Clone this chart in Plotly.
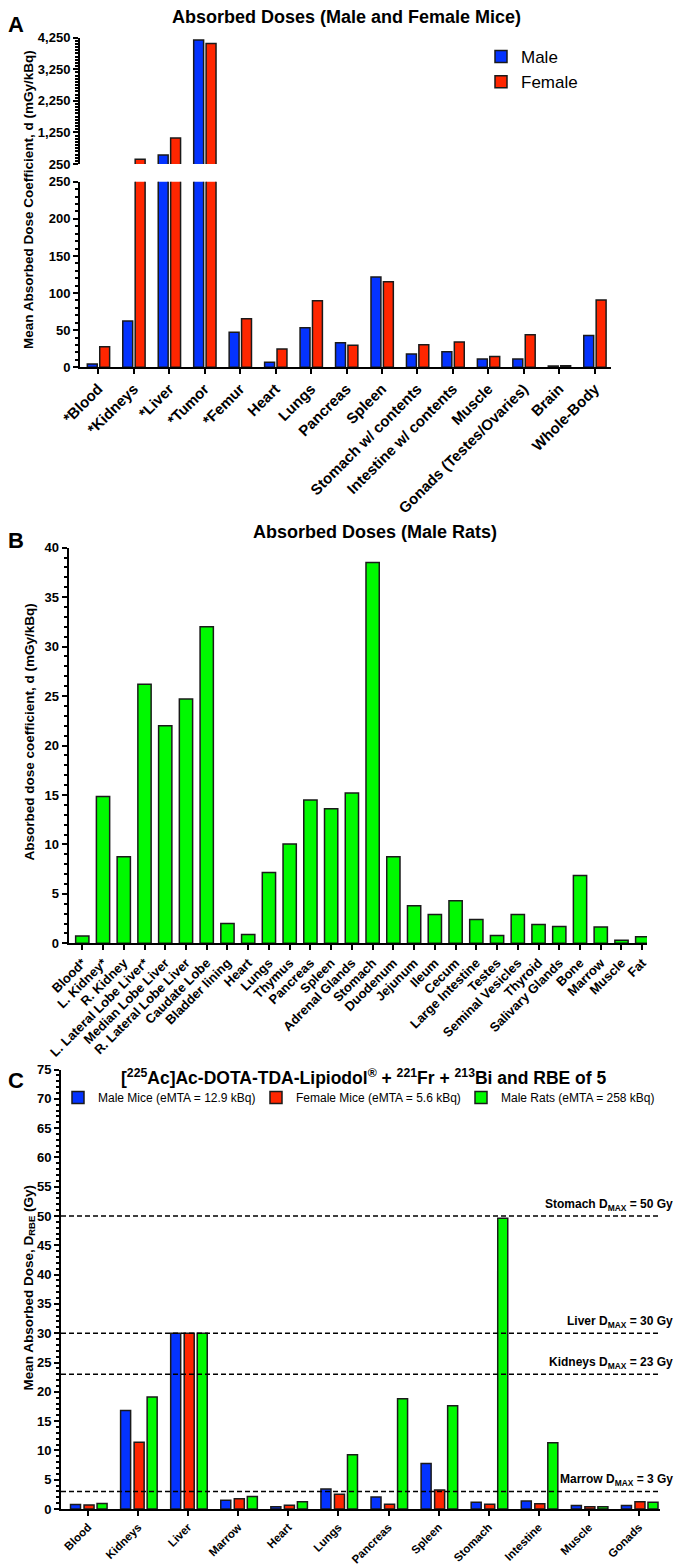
import plotly.graph_objects as go

# The page body adds an 8 px margin; the figure is sized/positioned to compensate
OFF = 8
W, H = 685 - OFF, 1567 - OFF


def px(x):
    return (x - OFF) / W


def py(y):
    return 1 - (y - OFF) / H


# ---------------- data ----------------
mice_organs = ["*Blood", "*Kidneys", "*Liver", "*Tumor", "*Femur", "Heart", "Lungs",
               "Pancreas", "Spleen", "Stomach w/ contents", "Intestine w/ contents",
               "Muscle", "Gonads (Testes/Ovaries)", "Brain", "Whole-Body"]
male_mice = [4.5, 62.4, 535, 4180, 47.1, 6.7, 53.4, 33.2, 121.6, 18.0, 21.1, 11.2, 11.2, 1.8, 43.0]
female_mice = [27.8, 400, 1073, 4070, 65.5, 24.7, 89.8, 29.6, 115.3, 30.5, 34.1, 14.4, 44.0, 2.2, 90.7]

rat_organs = ["Blood*", "L. Kidney*", "R. Kidney", "L. Lateral Lobe Liver*", "Median Lobe Liver",
              "R. Lateral Lobe Liver", "Caudate Lobe", "Bladder lining", "Heart", "Lungs", "Thymus",
              "Pancreas", "Spleen", "Adrenal Glands", "Stomach", "Duodenum", "Jejunum", "Ileum",
              "Cecum", "Large Intestine", "Testes", "Seminal Vesicles", "Thyroid", "Salivary Glands",
              "Bone", "Marrow", "Muscle", "Fat"]
male_rats = [0.75, 14.85, 8.75, 26.2, 22.0, 24.7, 32.0, 2.0, 0.9, 7.15, 10.05, 14.5, 13.6, 15.2,
             38.5, 8.75, 3.8, 2.9, 4.3, 2.4, 0.8, 2.9, 1.9, 1.7, 6.85, 1.65, 0.3, 0.65]

rbe_organs = ["Blood", "Kidneys", "Liver", "Marrow", "Heart", "Lungs", "Pancreas", "Spleen",
              "Stomach", "Intestine", "Muscle", "Gonads"]
rbe_male_mice = [0.75, 16.8, 30.0, 1.5, 0.4, 3.4, 2.05, 7.75, 1.15, 1.35, 0.6, 0.6]
rbe_female_mice = [0.7, 11.4, 30.0, 1.75, 0.65, 2.5, 0.8, 3.25, 0.8, 0.9, 0.4, 1.25]
rbe_male_rats = [0.95, 19.1, 30.0, 2.15, 1.25, 9.25, 18.8, 17.6, 49.6, 11.3, 0.4, 1.15]

dmax_organs = ["Stomach", "Liver", "Kidneys", "Marrow"]
dmax_values = [50, 30, 23, 3]

legend_c = ["Male Mice (eMTA = 12.9 kBq)", "Female Mice (eMTA = 5.6 kBq)", "Male Rats (eMTA = 258 kBq)"]

# ---------------- style ----------------
BLUE = "#0433FF"
RED = "#FF2600"
GREEN = "#00F900"
EDGE = "#1a1a1a"
SANS = "Liberation Sans, Arial, sans-serif"

fig = go.Figure()

# Panel A bottom (x, y) and top (x2, y2)
for vals, col, name, off in [(male_mice, BLUE, "Male", -0.31), (female_mice, RED, "Female", 0.04)]:
    fig.add_trace(go.Bar(x=mice_organs, y=vals, name=name, xaxis="x", yaxis="y",
                         marker=dict(color=col, line=dict(color=EDGE, width=1.5)),
                         width=0.28, offset=off, legend="legend", showlegend=True))
    fig.add_trace(go.Bar(x=mice_organs, y=vals, name=name, xaxis="x2", yaxis="y2",
                         marker=dict(color=col, line=dict(color=EDGE, width=1.5)),
                         width=0.28, offset=off, showlegend=False))

# Panel B
fig.add_trace(go.Bar(x=rat_organs, y=male_rats, name="Male Rats", xaxis="x3", yaxis="y3",
                     marker=dict(color=GREEN, line=dict(color=EDGE, width=1.5)),
                     width=0.64, offset=-0.32, showlegend=False))

# Panel C (one legend per entry so each can be placed like the original)
for vals, col, name, off, lg in [(rbe_male_mice, BLUE, legend_c[0], -0.35, "legend2"),
                                 (rbe_female_mice, RED, legend_c[1], -0.08, "legend3"),
                                 (rbe_male_rats, GREEN, legend_c[2], 0.18, "legend4")]:
    fig.add_trace(go.Bar(x=rbe_organs, y=vals, name=name, xaxis="x4", yaxis="y4",
                         marker=dict(color=col, line=dict(color=EDGE, width=1.5)),
                         width=0.20, offset=off, legend=lg, showlegend=True))

ytick_font = dict(family=SANS, size=13, color="black", weight="bold")

axis_common = dict(showline=True, linecolor="black", linewidth=2, ticks="outside",
                   tickcolor="black", tickwidth=2, ticklen=5, showgrid=False, zeroline=False,
                   automargin=False)
minor_common = dict(ticks="outside", ticklen=3, tickwidth=1.5, tickcolor="black")


def small_legend(x, y, size, orient="h"):
    return dict(x=px(x), y=py(y), xanchor="left", yanchor="top", orientation=orient,
                font=dict(family=SANS, size=size, color="black"),
                bgcolor="rgba(0,0,0,0)", traceorder="normal")


fig.update_layout(
    width=W, height=H, autosize=False,
    margin=dict(l=0, r=0, t=0, b=0, autoexpand=False),
    paper_bgcolor="white", plot_bgcolor="white",
    barmode="overlay",
    font=dict(family=SANS, color="black"),
    # Panel A bottom
    xaxis=dict(domain=[px(80), px(610.7)], anchor="y", range=[-0.516, 14.45],
               tickangle=-45, tickfont=dict(family=SANS, size=15, color="black", weight="bold"),
               **axis_common),
    yaxis=dict(domain=[py(367.3), py(181.7)], anchor="x", range=[0, 250],
               tickvals=[0, 50, 100, 150, 200, 250], tickfont=ytick_font,
               minor=dict(dtick=10, **minor_common), **axis_common),
    # Panel A top
    xaxis2=dict(domain=[px(80), px(610.7)], anchor="y2", range=[-0.516, 14.45], matches="x",
                visible=False),
    yaxis2=dict(domain=[py(164), py(37.7)], anchor="x2", range=[250, 4250],
                tickvals=[250, 1250, 2250, 3250, 4250], tickformat=",d", tickfont=ytick_font,
                minor=dict(dtick=100, tick0=250, **minor_common), **axis_common),
    # Panel B
    xaxis3=dict(domain=[px(68.6), px(647)], anchor="y3", range=[-0.66, 27.23],
                tickangle=-45, tickfont=dict(family=SANS, size=13, color="black", weight="bold"),
                **axis_common),
    yaxis3=dict(domain=[py(943.3), py(547.7)], anchor="x3", range=[0, 40], dtick=5,
                tickfont=ytick_font, minor=dict(dtick=1, **minor_common), **axis_common),
    # Panel C
    xaxis4=dict(domain=[px(61), px(660)], anchor="y4", range=[-0.54, 11.42],
                tickangle=-45, tickfont=dict(family=SANS, size=11.5, color="black", weight="bold"),
                **axis_common),
    yaxis4=dict(domain=[py(1509), py(1069.5)], anchor="x4", range=[0, 75], dtick=5,
                tickfont=ytick_font, minor=dict(dtick=1, **minor_common), **axis_common),
    legend=small_legend(481, 39, 17, "v"),
    legend2=small_legend(58, 1083, 12),
    legend3=small_legend(256, 1083, 12),
    legend4=small_legend(461, 1083, 12),
)

# Dashed D_MAX lines + labels
for organ, v in zip(dmax_organs, dmax_values):
    fig.add_shape(type="line", xref="x4 domain", x0=0, x1=1, yref="y4", y0=v, y1=v,
                  line=dict(color="black", width=1.5, dash="5px,3px"))
    fig.add_annotation(text=f"<b>{organ} D<sub>MAX</sub> = {v} Gy</b>", xref="paper", x=px(675),
                       xanchor="right", yref="y4", y=v, yanchor="bottom", yshift=1,
                       showarrow=False, font=dict(family=SANS, size=12, color="black"))

# Titles, panel letters, y-axis titles
texts = [
    ("<b>Absorbed Doses (Male and Female Mice)</b>", 346, 17, 18, 0),
    ("<b>Absorbed Doses (Male Rats)</b>", 375, 531.7, 18, 0),
    ("<b>[<sup>225</sup>Ac]Ac-DOTA-TDA-Lipiodol<sup>®</sup> + <sup>221</sup>Fr + <sup>213</sup>Bi and RBE of 5</b>",
     363, 1077, 17.5, 0),
    ("<b>A</b>", 16, 24, 22, 0),
    ("<b>B</b>", 16, 540, 22, 0),
    ("<b>C</b>", 16, 1080, 22, 0),
    ("<b>Mean Absorbed Dose Coefficient, d (mGy/kBq)</b>", 28, 200, 13.5, -90),
    ("<b>Absorbed dose coefficient, d (mGy/kBq)</b>", 28.5, 732, 13.5, -90),
    ("<b>Mean Absorbed Dose, D<sub>RBE</sub> (Gy)</b>", 28.5, 1288, 13.5, -90),
]
for t, x, y, s, ang in texts:
    fig.add_annotation(text=t, xref="paper", yref="paper", x=px(x), y=py(y),
                       xanchor="center", yanchor="middle", showarrow=False, textangle=ang,
                       font=dict(family=SANS, size=s, color="black"))

fig.write_html("out.html")
